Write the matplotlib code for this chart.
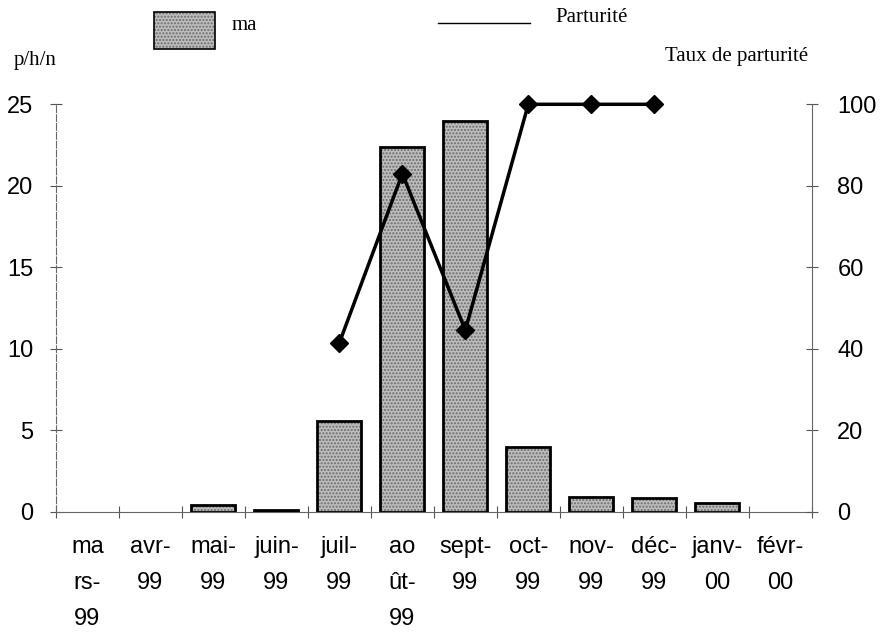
import matplotlib.pyplot as plt
from matplotlib.patches import Rectangle
from matplotlib.lines import Line2D
import numpy as np

# mois de mars 99 a fevrier 00
mois = ['ma\nrs-\n99', 'avr-\n99', 'mai-\n99', 'juin-\n99', 'juil-\n99', 'ao\nût-\n99',
        'sept-\n99', 'oct-\n99', 'nov-\n99', 'déc-\n99', 'janv-\n00', 'févr-\n00']
ma = [0, 0, 0.4, 0.14, 5.6, 22.4, 24.0, 4.0, 0.9, 0.85, 0.55, 0]
parturite = [np.nan, np.nan, np.nan, np.nan, 41.5, 83.0, 44.6, 100, 100, 100, np.nan, np.nan]

sans = 'Liberation Sans'
serif = 'Liberation Serif'

fig = plt.figure(figsize=(8.89, 6.36), dpi=100)
ax = fig.add_axes([0.063, 0.195, 0.85, 0.641])
x = np.arange(len(mois))
ma_arr = np.array(ma)
pos = ma_arr > 0

# barres grises texturees puis contour noir (pas de barre pour les mois a zero)
ax.bar(x[pos], ma_arr[pos], width=0.7, color='#bdbdbd', hatch='.....', edgecolor='#6a6a6a',
       linewidth=0, zorder=2)
ax.bar(x[pos], ma_arr[pos], width=0.7, fill=False, edgecolor='black', linewidth=2, zorder=3)

ax.set_xlim(-0.5, len(mois) - 0.5)
ax.set_ylim(0, 25)
ax.set_yticks([0, 5, 10, 15, 20, 25])
ax.set_xticks(x)
ax.set_xticklabels(mois, fontfamily=sans, fontsize=17, linespacing=1.85, va='top')
ax.set_xticks(np.arange(-0.5, len(mois)), minor=True)
ax.tick_params(axis='x', which='major', length=0, pad=17)
ax.tick_params(axis='x', which='minor', direction='inout', length=9, width=0.8, color='#555555')
ax.tick_params(axis='y', direction='inout', length=9, width=0.8, color='#555555', pad=12)
for lab in ax.get_yticklabels():
    lab.set_fontfamily(sans)
    lab.set_fontsize(17)

for s in ['top', 'right']:
    ax.spines[s].set_visible(False)
ax.spines['left'].set_color('#666666')
ax.spines['left'].set_linewidth(0.8)
ax.spines['left'].set_linestyle((0, (6, 2)))
ax.spines['bottom'].set_color('#666666')
ax.spines['bottom'].set_linewidth(0.8)

# axe droit : taux de parturite
ax2 = ax.twinx()
ax2.plot(x, parturite, color='black', linewidth=2.5, marker='D', markersize=9, zorder=4,
         clip_on=False)
ax2.set_ylim(0, 100)
ax2.set_yticks([0, 20, 40, 60, 80, 100])
ax2.tick_params(axis='y', direction='inout', length=9, width=0.8, color='#555555', pad=14)
for lab in ax2.get_yticklabels():
    lab.set_fontfamily(sans)
    lab.set_fontsize(17)
for s in ['top', 'left', 'bottom']:
    ax2.spines[s].set_visible(False)
ax2.spines['right'].set_color('#666666')
ax2.spines['right'].set_linewidth(0.8)

# titres des axes
fig.text(14 / 889, 1 - 60 / 636, 'p/h/n', fontfamily=serif, fontsize=15, va='center', ha='left')
fig.text(808 / 889, 1 - 57 / 636, 'Taux de parturité', fontfamily=serif, fontsize=15,
         va='center', ha='right')

# legende
fig.add_artist(Rectangle((154 / 889, 1 - 49 / 636), 61 / 889, 37 / 636, transform=fig.transFigure,
                         facecolor='#bdbdbd', hatch='.....', edgecolor='#6a6a6a', linewidth=0))
fig.add_artist(Rectangle((154 / 889, 1 - 49 / 636), 61 / 889, 37 / 636, transform=fig.transFigure,
                         fill=False, edgecolor='black', linewidth=1.2))
fig.text(232 / 889, 1 - 25 / 636, 'ma', fontfamily=serif, fontsize=15, va='center', ha='left')
fig.add_artist(Line2D([438 / 889, 530 / 889], [1 - 23 / 636, 1 - 23 / 636],
                      transform=fig.transFigure, color='black', linewidth=1))
fig.text(555 / 889, 1 - 18 / 636, 'Parturité', fontfamily=serif, fontsize=15, va='center', ha='left')

fig.savefig('out.png', dpi=100)
